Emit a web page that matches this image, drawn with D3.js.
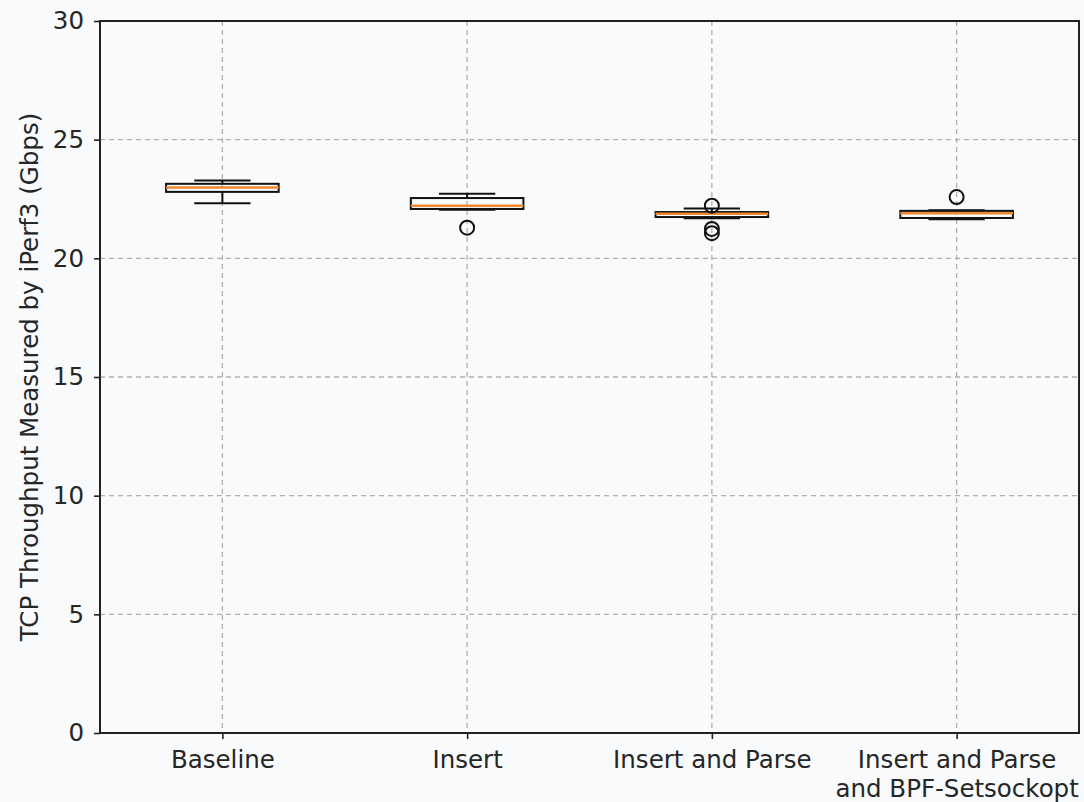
<!DOCTYPE html>
<html>
<head>
<meta charset="utf-8">
<script src="https://cdn.jsdelivr.net/npm/d3@7"></script>
<style>
  body { margin: 0; background: #f8fafc; }
  svg { display: block; font-family: "DejaVu Sans", sans-serif; }
</style>
</head>
<body>
<svg id="chart" width="1084" height="802"></svg>
<script>
// box statistics (Gbps)
const categories = ["Baseline", "Insert", "Insert and Parse", "Insert and Parse\nand BPF-Setsockopt"];
const whiskerLow = [22.32, 22.05, 21.69, 21.65];
const q1 = [22.80, 22.08, 21.74, 21.70];
const median = [22.98, 22.22, 21.88, 21.90];
const q3 = [23.14, 22.54, 21.95, 22.00];
const whiskerHigh = [23.28, 22.72, 22.10, 22.03];
const outliers = [[], [21.29], [22.22, 21.24, 21.06], [22.58]];
const yTicks = [0, 5, 10, 15, 20, 25, 30];

const svg = d3.select("#chart");
const mLeft = 100, mRight = 1079, mTop = 21, mBottom = 733;
const FONT = "DejaVu Sans";
const FS = 24.5;

// Create scales
var x = d3.scaleLinear().domain([0.5, 4.5]).range([mLeft, mRight]);
var y = d3.scaleLinear().domain([0, 30]).range([mBottom, mTop]);

svg.append("rect")
  .attr("x", mLeft).attr("y", mTop)
  .attr("width", mRight - mLeft).attr("height", mBottom - mTop)
  .attr("fill", "#f8fafc");

// grid
const grid = svg.append("g").attr("stroke", "#b0b0b0").attr("stroke-width", 1.3).attr("stroke-dasharray", "5,4");
grid.selectAll(".gy").data(yTicks).enter().append("line")
  .attr("x1", mLeft).attr("x2", mRight)
  .attr("y1", d => y(d)).attr("y2", d => y(d));
grid.selectAll(".gx").data(categories).enter().append("line")
  .attr("x1", (d, i) => x(i + 1)).attr("x2", (d, i) => x(i + 1))
  .attr("y1", mTop).attr("y2", mBottom);

// axes
var yAxis = d3.axisLeft(y).tickValues(yTicks).tickSize(6).tickPadding(10);
svg.append("g")
  .attr("transform", `translate(${mLeft},0)`)
  .call(yAxis)
  .attr("font-family", FONT).attr("font-size", FS)
  .call(g => g.select(".domain").remove())
  .call(g => g.selectAll("line").attr("stroke", "#222").attr("stroke-width", 1.6))
  .call(g => g.selectAll("text").attr("fill", "#262626"));

var xAxis = d3.axisBottom(x).tickValues([1, 2, 3, 4]).tickSize(6).tickPadding(12)
  .tickFormat(d => categories[d - 1]);
const xg = svg.append("g")
  .attr("transform", `translate(0,${mBottom})`)
  .call(xAxis)
  .attr("font-family", FONT).attr("font-size", FS)
  .call(g => g.select(".domain").remove())
  .call(g => g.selectAll("line").attr("stroke", "#222").attr("stroke-width", 1.6));
xg.selectAll("text")
  .attr("fill", "#262626")
  .each(function(d) {
    const t = d3.select(this);
    const lines = categories[d - 1].split("\n");
    t.text(null);
    lines.forEach((s, k) => {
      t.append("tspan").attr("x", 0).attr("dy", k === 0 ? "0.71em" : "1.16em").text(s);
    });
  })
  .attr("dy", null);

// frame
svg.append("rect")
  .attr("x", mLeft).attr("y", mTop)
  .attr("width", mRight - mLeft).attr("height", mBottom - mTop)
  .attr("fill", "none").attr("stroke", "#222").attr("stroke-width", 2);

// y label
svg.append("text")
  .attr("transform", `translate(31,${(mTop + mBottom) / 2}) rotate(-90)`)
  .attr("text-anchor", "middle")
  .attr("dominant-baseline", "middle")
  .attr("font-family", FONT).attr("font-size", FS).attr("fill", "#262626")
  .text("TCP Throughput Measured by iPerf3 (Gbps)");

// boxes
const boxW = x(1.23) - x(1);
const capW = boxW / 2;
const boxes = svg.append("g");
categories.forEach((c, i) => {
  const cx = x(i + 1);
  const g = boxes.append("g").attr("stroke", "#111").attr("stroke-width", 2).attr("fill", "none");
  g.append("line").attr("x1", cx).attr("x2", cx).attr("y1", y(whiskerHigh[i])).attr("y2", y(q3[i]));
  g.append("line").attr("x1", cx).attr("x2", cx).attr("y1", y(q1[i])).attr("y2", y(whiskerLow[i]));
  g.append("line").attr("x1", cx - capW).attr("x2", cx + capW).attr("y1", y(whiskerHigh[i])).attr("y2", y(whiskerHigh[i]));
  g.append("line").attr("x1", cx - capW).attr("x2", cx + capW).attr("y1", y(whiskerLow[i])).attr("y2", y(whiskerLow[i]));
  g.append("rect")
    .attr("x", cx - boxW).attr("y", y(q3[i]))
    .attr("width", boxW * 2).attr("height", y(q1[i]) - y(q3[i]));
  g.append("line").attr("stroke", "#f08a30").attr("stroke-width", 2.5)
    .attr("x1", cx - boxW).attr("x2", cx + boxW).attr("y1", y(median[i])).attr("y2", y(median[i]));
  g.selectAll("circle").data(outliers[i]).enter().append("circle")
    .attr("cx", cx).attr("cy", d => y(d)).attr("r", 7);
});
</script>
</body>
</html>
